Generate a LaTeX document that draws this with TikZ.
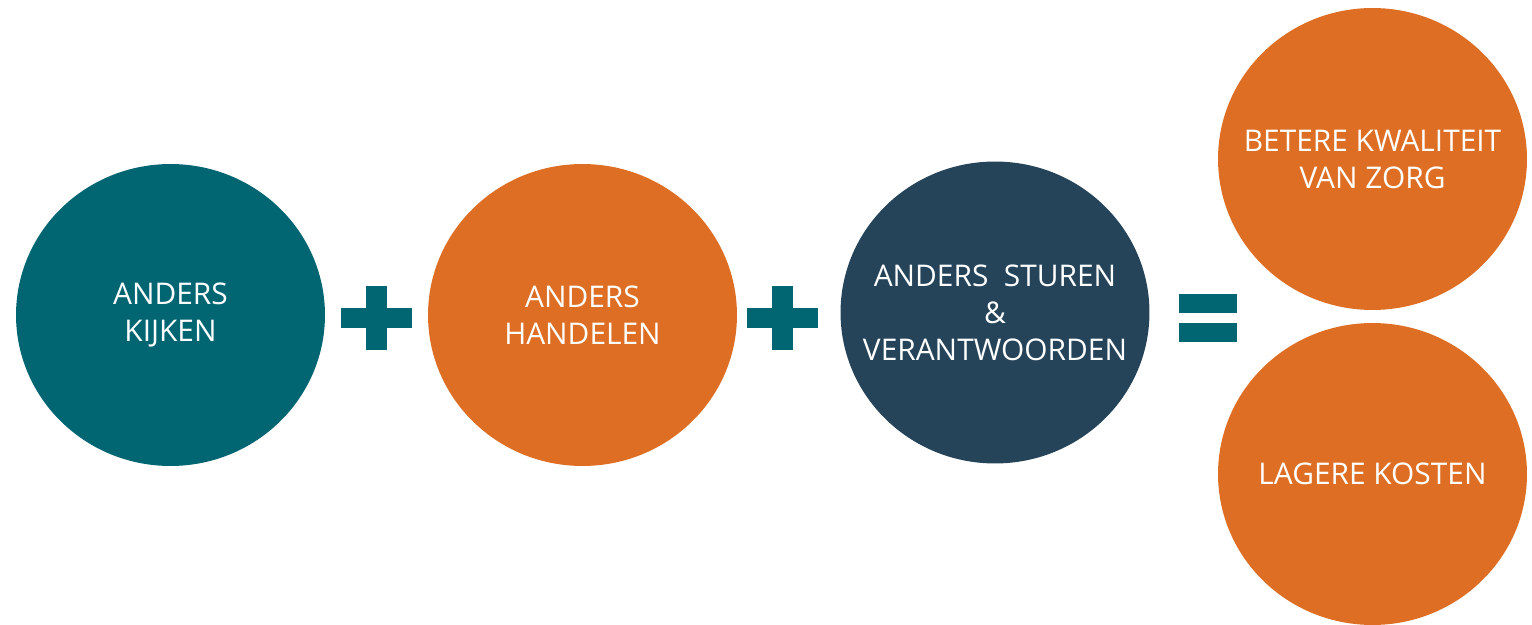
\documentclass[tikz,border=0pt]{standalone}
\usepackage{fontspec}
\setmainfont{Open Sans}
\usepackage{tikz}
\usetikzlibrary{shapes.geometric}

\definecolor{kijkteal}{RGB}{1,101,114}
\definecolor{zorgoranje}{RGB}{221,110,36}
\definecolor{stuurblauw}{RGB}{37,68,89}

\begin{document}
\begin{tikzpicture}[x=0.02cm, y=-0.02cm]

\tikzstyle{every node}=[font=\fontsize{17}{21}\selectfont, text=white, align=center]
\tikzstyle{bol}=[ellipse, inner sep=0pt, minimum width=6.18cm, minimum height=6.04cm]
\tikzstyle{balk}=[rectangle, inner sep=0pt, fill=kijkteal]

\useasboundingbox (0,0) rectangle (1532,625);

\pgfmathsetmacro\y{315}

\pgfmathsetmacro\x{170.5}
\node[bol, fill=kijkteal] (kijken) at (\x, \y) {};
\node (kijken_tekst) at (kijken) {ANDERS\\KIJKEN};

\pgfmathsetmacro\x{376.5}
\node[balk, minimum width=1.42cm, minimum height=0.4cm] (plus_a_h) at (\x, 318) {};
\node[balk, minimum width=0.42cm, minimum height=1.28cm] (plus_a_v) at (\x, 318) {};

\pgfmathsetmacro\x{582.5}
\node[bol, fill=zorgoranje] (handelen) at (\x, \y) {};
\node (handelen_tekst) at (handelen) {ANDERS\\HANDELEN};

\pgfmathsetmacro\x{782.5}
\node[balk, minimum width=1.42cm, minimum height=0.4cm] (plus_b_h) at (\x, 318) {};
\node[balk, minimum width=0.42cm, minimum height=1.28cm] (plus_b_v) at (\x, 318) {};

\pgfmathsetmacro\x{995}
\node[bol, fill=stuurblauw] (sturen) at (\x, 312.5) {};
\node (sturen_tekst) at (sturen) {ANDERS~ STUREN\\\&\\VERANTWOORDEN};

\pgfmathsetmacro\x{1208}
\node[balk, minimum width=1.16cm, minimum height=0.38cm] (is_boven) at (\x, 303.5) {};
\node[balk, minimum width=1.16cm, minimum height=0.38cm] (is_onder) at (\x, 332.5) {};

\pgfmathsetmacro\x{1372.5}
\node[bol, fill=zorgoranje] (kwaliteit) at (\x, 159) {};
\node (kwaliteit_tekst) at (kwaliteit) {BETERE KWALITEIT\\VAN ZORG};

\node[bol, fill=zorgoranje] (kosten) at (\x, 474) {};
\node (kosten_tekst) at (kosten) {LAGERE KOSTEN};

\end{tikzpicture}
\end{document}
